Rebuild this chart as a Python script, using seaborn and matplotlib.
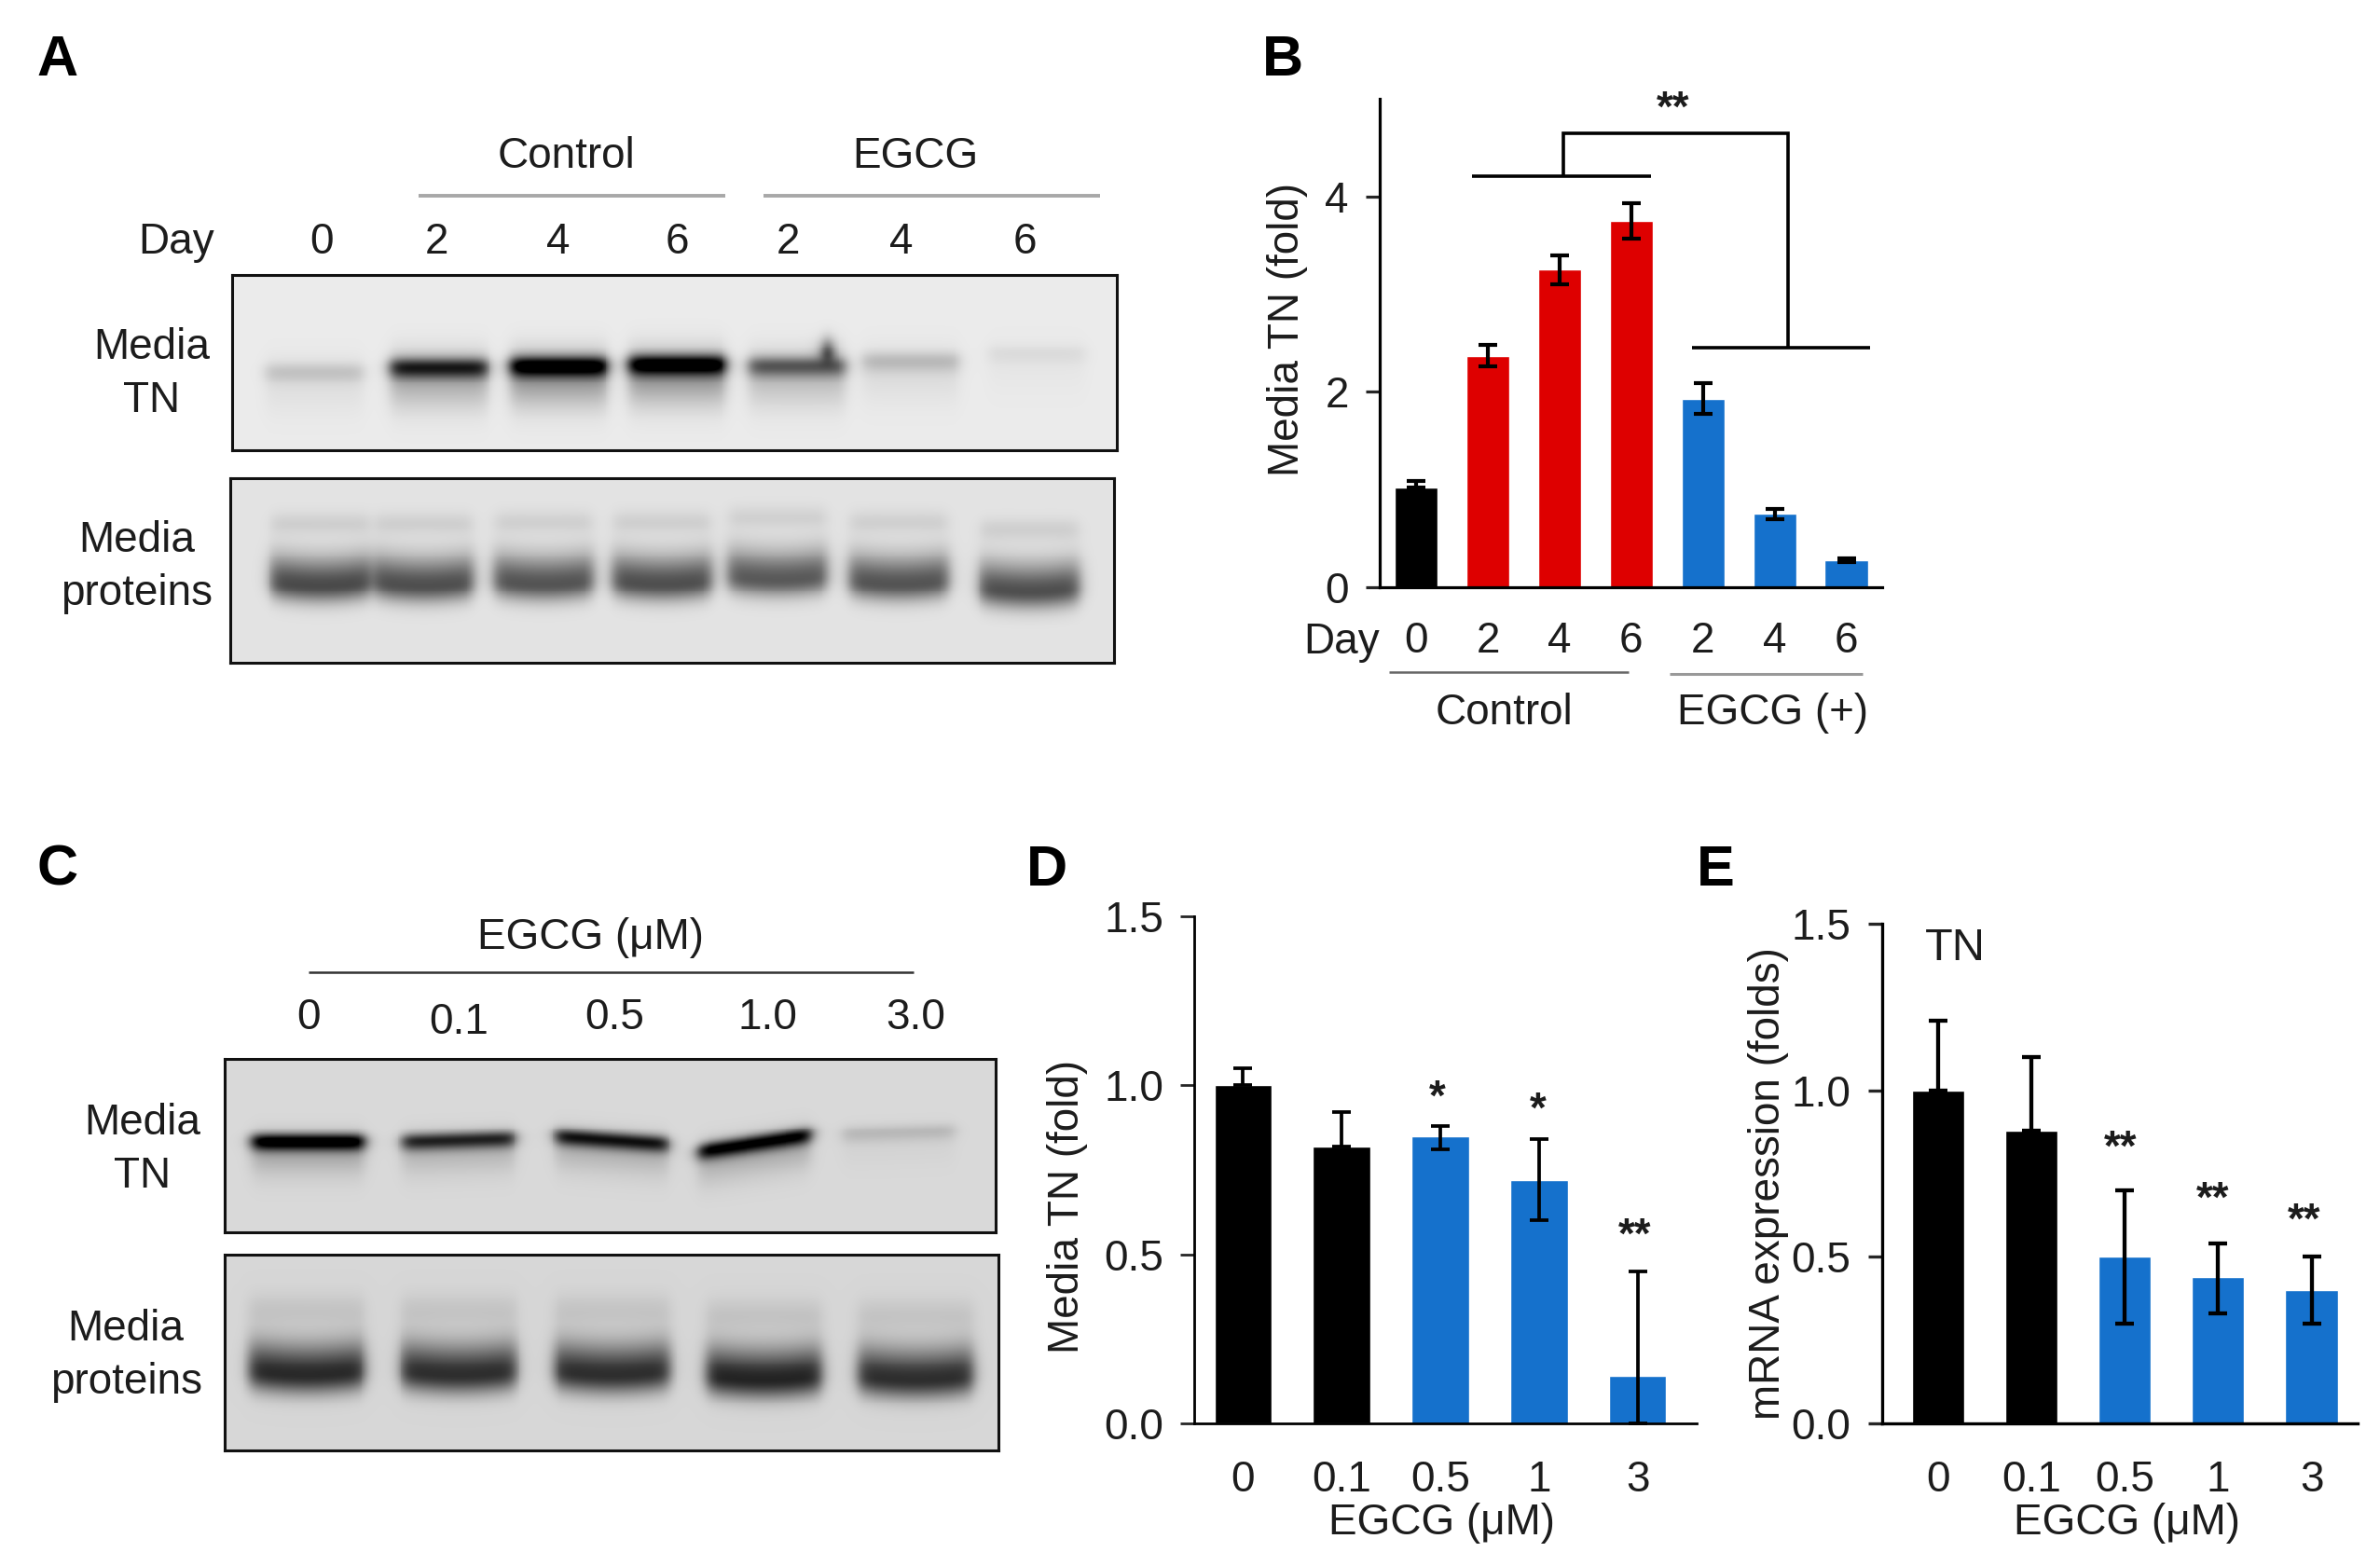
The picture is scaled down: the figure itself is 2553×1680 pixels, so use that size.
#!/usr/bin/env python3
# -*- coding: utf-8 -*-
"""Western blots and bar charts, panels A-E"""

import numpy as np
import pandas as pd
import matplotlib
matplotlib.use("Agg")
import matplotlib.pyplot as plt
import seaborn as sns

# Panel B
b_lanes = ["c0", "c2", "c4", "c6", "e2", "e4", "e6"]
b_days = ["0", "2", "4", "6", "2", "4", "6"]
b_means = [1.02, 2.37, 3.25, 3.75, 1.93, 0.75, 0.28]
b_errs = [0.07, 0.11, 0.15, 0.18, 0.16, 0.05, 0.02]
b_groups = ["base", "ctrl", "ctrl", "ctrl", "egcg", "egcg", "egcg"]

# Panel D
d_doses = ["0", "0.1", "0.5", "1", "3"]
d_means = [1.0, 0.82, 0.85, 0.72, 0.14]
d_upper = [0.05, 0.10, 0.03, 0.12, 0.31]
d_lower = [0.0, 0.0, 0.04, 0.12, 0.14]
d_groups = ["base", "base", "egcg", "egcg", "egcg"]

# Panel E
e_doses = ["0", "0.1", "0.5", "1", "3"]
e_means = [1.0, 0.88, 0.50, 0.44, 0.40]
e_upper = [0.21, 0.22, 0.20, 0.10, 0.10]
e_lower = [0.0, 0.0, 0.20, 0.11, 0.10]
e_groups = ["base", "base", "egcg", "egcg", "egcg"]

# Blots: lane centre, darkness, height and tilt of each band
a_tn_lanes = [207, 289, 368, 446, 525, 600, 683]
a_tn_level = [0.13, 0.68, 0.90, 0.90, 0.48, 0.16, 0.05]
a_tn_rows = [245, 242, 241, 240, 241, 238, 233]
a_pr_lanes = [211, 279, 358, 436, 512, 592, 678]
a_pr_level = [0.60, 0.58, 0.56, 0.58, 0.54, 0.56, 0.58]
a_pr_rows = [386, 386, 385, 385, 382, 385, 390]
c_tn_lanes = [203, 302, 403, 497, 592]
c_tn_level = [0.85, 0.62, 0.68, 0.78, 0.11]
c_tn_rows = [752, 751, 751, 753, 746]
c_tn_tilt = [0.0, -0.03, 0.07, -0.15, -0.03]
c_pr_lanes = [202, 302, 403, 503, 603]
c_pr_level = [0.68, 0.66, 0.66, 0.70, 0.66]
c_pr_rows = [906, 906, 906, 909, 909]

COLORS = {"base": "#000000", "ctrl": "#DE0000", "egcg": "#1571CC"}
INK = "#1c1c1c"
FS = 33

sns.set_theme(style="ticks")
plt.rcParams["font.family"] = ["Liberation Sans", "DejaVu Sans"]

W, H = 1568, 1032  # working units, the layout was measured on this grid
fig = plt.figure(figsize=(25.53, 16.80), dpi=100)


def box(x0, y0, x1, y1):
    return fig.add_axes([x0 / W, 1 - y1 / H, (x1 - x0) / W, (y1 - y0) / H])


def band(X, Y, cx, cy, half, up, down, level, smile=0.0, tilt=0.0):
    across = 0.5 * (np.tanh((X - cx + half) / 5) - np.tanh((X - cx - half) / 5))
    dy = Y - cy - tilt * (X - cx) + smile * ((X - cx) / half) ** 2
    spread = np.where(dy < 0, up, down)
    return level * across * np.exp(-((dy / spread) ** 2))


def gel(rect, bg, layers):
    x0, y0, x1, y1 = rect
    xs = np.arange(x0, x1, 0.6)
    ys = np.arange(y0, y1, 0.6)
    X, Y = np.meshgrid(xs, ys)
    img = np.full(X.shape, float(bg))
    for lanes, levels, rows, tilts, shift, half, up, down, frac, smile in layers:
        for cx, lev, cy, tl in zip(lanes, levels, rows, tilts):
            img -= band(X, Y, cx, cy + shift, half, up, down, lev * frac, smile, tl)
    ax = box(*rect)
    sns.heatmap(pd.DataFrame(np.clip(img, 0, 1)), cmap="gray", vmin=0, vmax=1,
                cbar=False, xticklabels=False, yticklabels=False, ax=ax)
    for s in ax.spines.values():
        s.set_visible(True)
        s.set_color("#111111")
        s.set_linewidth(2.2)
    return ax


def bars(rect, cats, means, upper, lower, groups, xlim, ylim, yticks, fmt,
         ticklabels=None, width=0.58, axis_lw=2.4, xpad=28):
    ax = box(*rect)
    df = pd.DataFrame({"x": cats, "y": means, "g": groups})
    sns.barplot(data=df, x="x", y="y", hue="g", palette=COLORS, dodge=False,
                width=width, saturation=1, legend=False, ax=ax)
    ax.errorbar(range(len(means)), means, yerr=[lower, upper], fmt="none",
                ecolor="#000000", elinewidth=axis_lw + 0.7, capsize=7,
                capthick=axis_lw + 0.7, zorder=5, clip_on=False)
    ax.set_xticks(range(len(cats)))
    ax.set_xticklabels(ticklabels if ticklabels else cats)
    ax.set_xlim(*xlim)
    ax.set_ylim(*ylim)
    ax.set_yticks(yticks)
    ax.set_yticklabels([fmt % t for t in yticks])
    ax.set_xlabel("")
    ax.set_ylabel("")
    sns.despine(ax=ax)
    for s in ("left", "bottom"):
        ax.spines[s].set_linewidth(axis_lw)
        ax.spines[s].set_color("#000000")
    ax.tick_params(axis="y", length=11, width=axis_lw, labelsize=FS,
                   labelcolor=INK, pad=13)
    ax.tick_params(axis="x", length=0, labelsize=FS, labelcolor=INK, pad=xpad)
    ax.patch.set_alpha(0)
    return ax


# Panel A blots
zero7 = [0.0] * 7
gel((153, 181, 736, 297), 0.92, [
    (a_tn_lanes, a_tn_level, a_tn_rows, zero7, 0, 32, 6, 7, 0.9, 0),
    (a_tn_lanes, a_tn_level, a_tn_rows, zero7, 6, 32, 16, 20, 0.38, 0),
    ([545], [1.6], [232], [0.0], 0, 1.5, 9, 6, 1.0, 0),
])
gel((152, 315, 734, 437), 0.89, [
    (a_pr_lanes, a_pr_level, a_pr_rows, zero7, 0, 33, 18, 11, 1.0, 3),
    (a_pr_lanes, a_pr_level, a_pr_rows, zero7, -41, 32, 8, 7, 0.13, 0),
])

# Panel C blots
zero5 = [0.0] * 5
gel((148, 698, 656, 812), 0.85, [
    (c_tn_lanes, c_tn_level, c_tn_rows, c_tn_tilt, 0, 37, 5, 6, 1.0, 0),
    (c_tn_lanes, c_tn_level, c_tn_rows, c_tn_tilt, 6, 37, 12, 16, 0.22, 0),
])
gel((148, 827, 658, 956), 0.84, [
    (c_pr_lanes, c_pr_level, c_pr_rows, zero5, 0, 38, 20, 12, 1.0, 3),
    (c_pr_lanes, c_pr_level, c_pr_rows, zero5, -43, 38, 11, 10, 0.10, 0),
])

# Panel B
ax_b = bars((909, 65, 1240, 387), b_lanes, b_means, b_errs,
            [0.0] + b_errs[1:], b_groups, (-0.51, 6.5), (0, 5), [0, 2, 4], "%d",
            ticklabels=b_days, width=0.60, axis_lw=2.3, xpad=26)

# Panel D
ax_d = bars((787, 604, 1118, 938), d_doses, d_means, d_upper, d_lower, d_groups,
            (-0.49, 4.6), (0, 1.5), [0.0, 0.5, 1.0, 1.5], "%.1f", axis_lw=2.0)

# Panel E
ax_e = bars((1240, 609, 1553, 938), e_doses, e_means, e_upper, e_lower, e_groups,
            (-0.60, 4.49), (0, 1.5), [0.0, 0.5, 1.0, 1.5], "%.1f", width=0.56,
            axis_lw=2.4)

# Everything around the axes sits on one transparent layer
ann = fig.add_axes([0, 0, 1, 1], zorder=10)
ann.set_xlim(0, W)
ann.set_ylim(H, 0)
ann.axis("off")


def label(x, y, s, **kw):
    kw.setdefault("fontsize", FS)
    kw.setdefault("color", INK)
    ann.text(x, y + 2, s, ha="center", va="center", **kw)


def rule(xs, ys, color="#000000", lw=2.6):
    ann.plot(xs, ys, color=color, lw=lw, solid_capstyle="butt",
             solid_joinstyle="miter")


for x, y, s in [(38, 38, "A"), (845, 38, "B"), (38, 572, "C"), (690, 572, "D"),
                (1130, 572, "E")]:
    label(x, y, s, fontsize=44, fontweight="bold", color="#000000")

# A labels
label(373, 101, "Control")
label(603, 101, "EGCG")
rule([276, 478], [129, 129], "#a8a8a8", 2.8)
rule([503, 725], [129, 129], "#a8a8a8", 2.8)
label(116, 158, "Day")
for x, s in zip([212, 288, 368, 446, 519, 594, 675], ["0", "2", "4", "6", "2", "4", "6"]):
    label(x, 158, s)
label(100, 227, "Media")
label(100, 262, "TN")
label(90, 354, "Media")
label(90, 389, "proteins")

# B labels and brackets
label(884, 421, "Day")
rule([915, 1073], [443, 443], "#666666", 1.8)
rule([1100, 1227], [444, 444], "#999999", 2.2)
label(991, 468, "Control")
label(1168, 468, "EGCG (+)")
label(848, 215, "Media TN (fold)", rotation=90)
rule([970, 1088], [116, 116])
rule([1030, 1030, 1178, 1178], [116, 88, 88, 229])
rule([1115, 1232], [229, 229])
label(1102, 70, "**", fontweight="bold")

# C labels
label(389, 616, "EGCG (\u03bcM)")
rule([203, 602], [641, 641], "#333333", 1.8)
for x, y, s in [(203, 669, "0"), (302, 672, "0.1"), (405, 669, "0.5"),
                (506, 669, "1.0"), (603, 669, "3.0")]:
    label(x, y, s)
label(94, 738, "Media")
label(94, 773, "TN")
label(83, 874, "Media")
label(83, 909, "proteins")

# D labels
label(950, 1002, "EGCG (\u03bcM)")
label(703, 793, "Media TN (fold)", rotation=90)
label(947, 722, "*", fontweight="bold")
label(1013, 730, "*", fontweight="bold")
label(1077, 813, "**", fontweight="bold")

# E labels
label(1401, 1002, "EGCG (\u03bcM)")
label(1165, 778, "mRNA expression (folds)", rotation=90)
label(1288, 623, "TN", fontsize=35)
label(1397, 755, "**", fontweight="bold")
label(1458, 789, "**", fontweight="bold")
label(1518, 803, "**", fontweight="bold")

fig.savefig("out.png", dpi=100, facecolor="white")
